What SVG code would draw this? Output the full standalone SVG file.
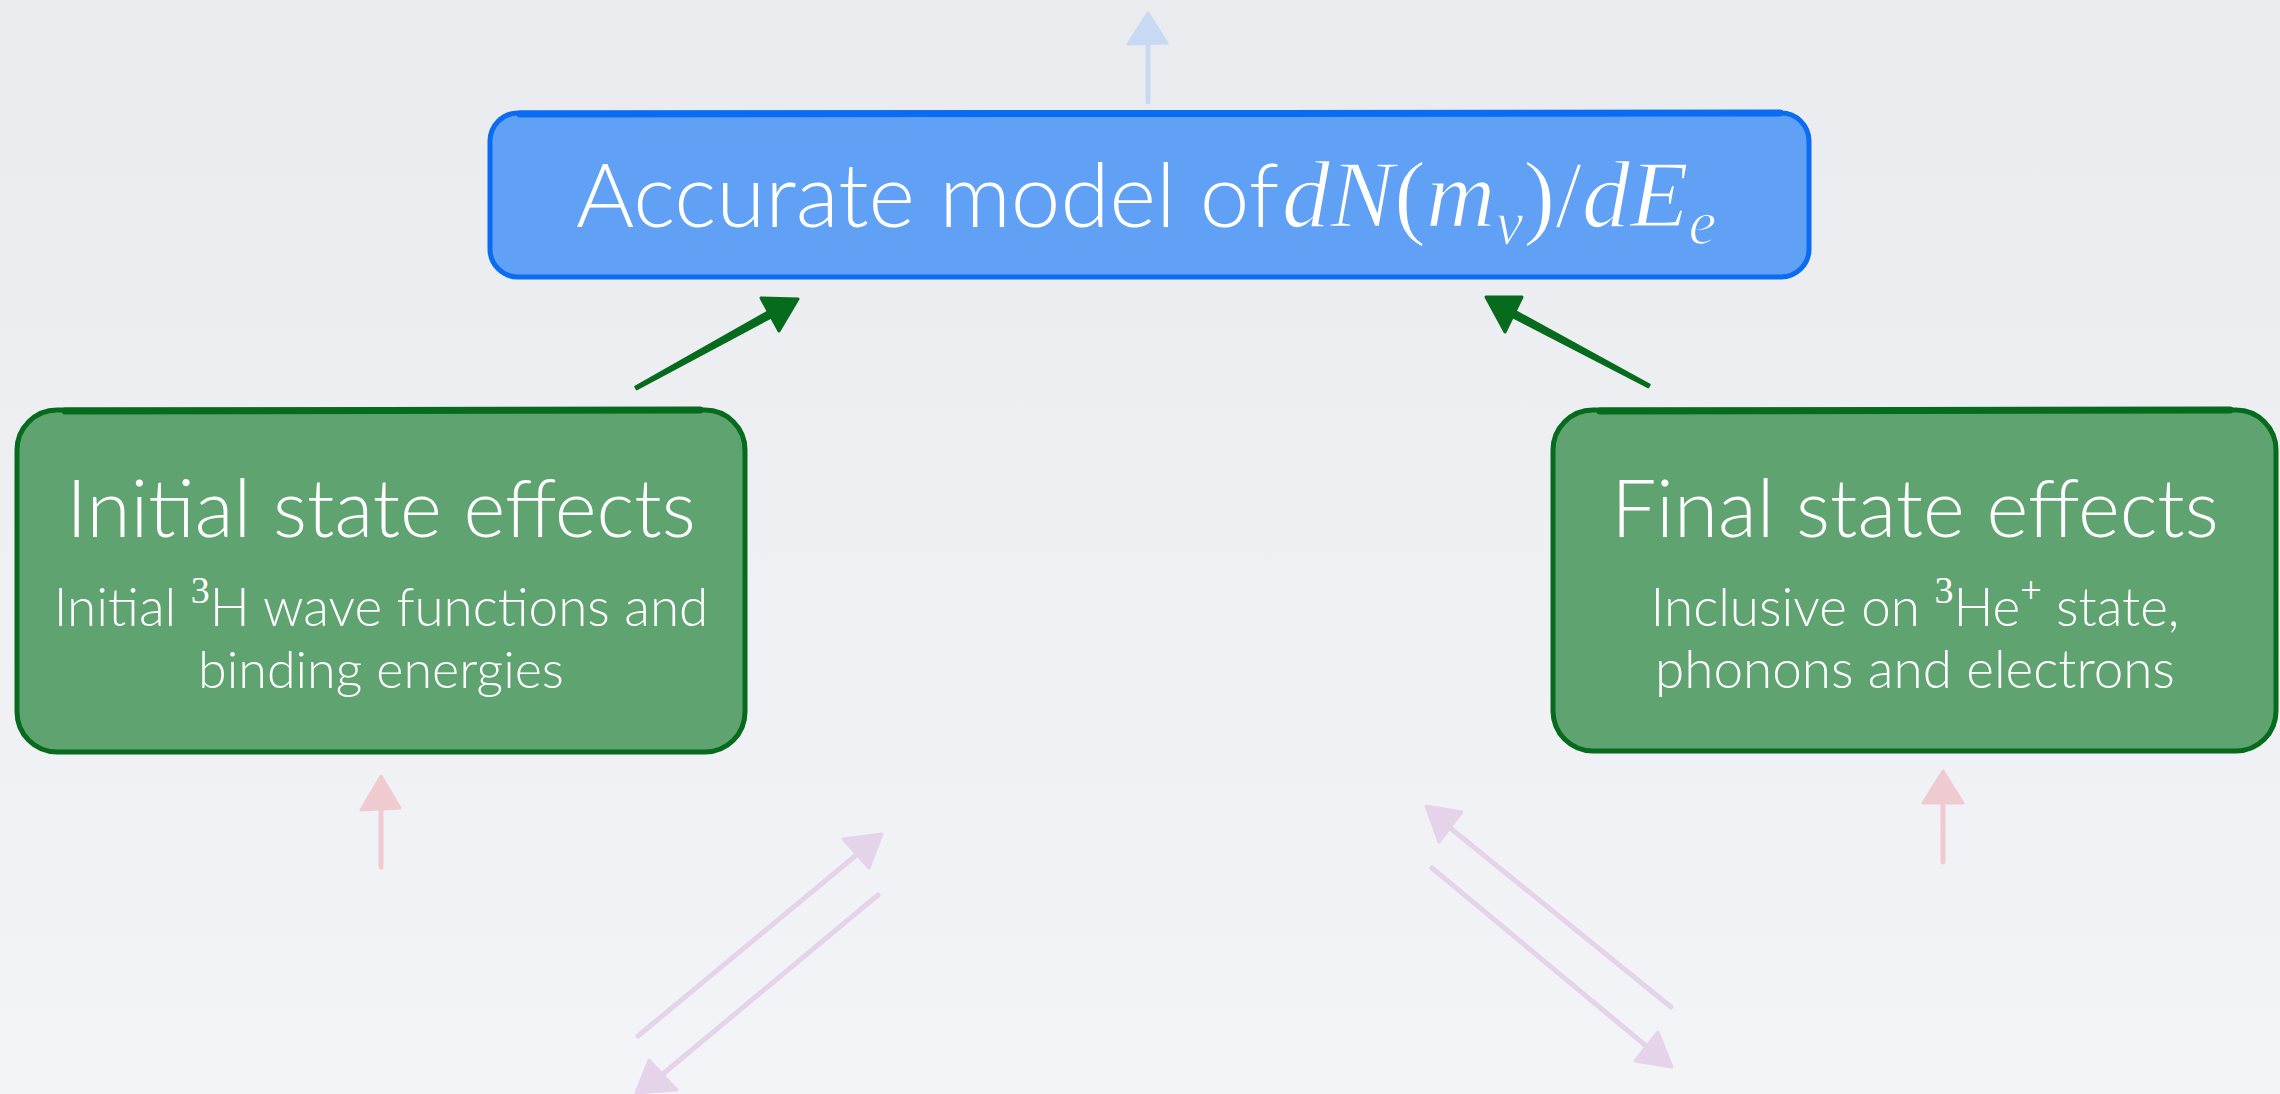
<svg xmlns="http://www.w3.org/2000/svg" width="2280" height="1094" viewBox="0 0 2280 1094">
  <defs>
    <linearGradient id="bg" x1="0" y1="0" x2="0" y2="1">
      <stop offset="0" stop-color="#e9ebef"/>
      <stop offset="1" stop-color="#f3f4f7"/>
    </linearGradient>
    <style>
      .box-blue { fill: #60a1f6; stroke: #0a6cf2; stroke-width: 5; }
      .box-green { fill: #5fa470; stroke: #076b1d; stroke-width: 5; }
      .edge-top-blue { fill: none; stroke: #0a6cf2; stroke-width: 7; stroke-linecap: round; }
      .edge-top-green { fill: none; stroke: #076b1d; stroke-width: 7; stroke-linecap: round; }
      .title { font-family: "Lato", "Open Sans", "DejaVu Sans", sans-serif; font-weight: 300; fill: #ffffff; }
      .math { font-family: "Liberation Serif", "DejaVu Serif", serif; font-style: italic; font-weight: 400; fill: #ffffff; stroke: #60a1f6; stroke-width: 1.4; }
      .upright { font-style: normal; }
      .sup { font-family: "Liberation Serif", "DejaVu Serif", serif; }
      .shaft-green { fill: #076b1d; stroke: #076b1d; stroke-width: 2; stroke-linejoin: round; }
      .head-green { fill: #076b1d; stroke: #076b1d; stroke-width: 3; stroke-linejoin: round; }
      .shaft-faint-blue { fill: none; stroke: #c8daf3; stroke-width: 5; stroke-linecap: round; }
      .head-faint-blue { fill: #c8daf3; stroke: #c8daf3; stroke-width: 3; stroke-linejoin: round; }
      .shaft-pink { fill: none; stroke: #efcad1; stroke-width: 5; stroke-linecap: round; }
      .head-pink { fill: #efcad1; stroke: #efcad1; stroke-width: 3; stroke-linejoin: round; }
      .shaft-purple { fill: none; stroke: #e4d3e9; stroke-width: 5; stroke-linecap: round; }
      .head-purple { fill: #e4d3e9; stroke: #e4d3e9; stroke-width: 3; stroke-linejoin: round; }
    </style>
  </defs>

  <rect x="0" y="0" width="2280" height="1094" fill="url(#bg)"/>

  <!-- Connectors -->
  <g id="connectors">
    <!-- faint arrow leaving the top box upwards -->
    <g id="arrow-top-out">
      <path class="shaft-faint-blue" d="M1148,102 L1148,40"/>
      <polygon class="head-faint-blue" points="1148,13 1128,44 1167,43"/>
    </g>
    <!-- initial state effects -> accurate model (tapered shaft) -->
    <g id="arrow-initial-to-model">
      <path class="shaft-green" d="M636.7,389.3 L777.7,314.1 L774.3,307.9 L635.3,386.7 Z"/>
      <polygon class="head-green" points="798,299 761,298 779,331"/>
    </g>
    <!-- final state effects -> accurate model (tapered shaft) -->
    <g id="arrow-final-to-model">
      <path class="shaft-green" d="M1649.7,384.7 L1511.6,308.9 L1508.4,315.1 L1648.3,387.3 Z"/>
      <polygon class="head-green" points="1486,297 1522,297 1505,332"/>
    </g>
    <!-- faint arrows into the lower boxes -->
    <g id="arrow-into-initial">
      <path class="shaft-pink" d="M381,867 L381,806"/>
      <polygon class="head-pink" points="381,776 361,810 400,808"/>
    </g>
    <g id="arrow-into-final">
      <path class="shaft-pink" d="M1943,862 L1943,802"/>
      <polygon class="head-pink" points="1943,771 1923,803 1963,803"/>
    </g>
    <!-- faint paired arrows, lower left -->
    <g id="arrows-lower-left">
      <path class="shaft-purple" d="M638,1036 L860,852"/>
      <polygon class="head-purple" points="882,834 843,839 869,868"/>
      <path class="shaft-purple" d="M878,895 L658,1078"/>
      <polygon class="head-purple" points="636,1093 649,1060 677,1090"/>
    </g>
    <!-- faint paired arrows, lower right -->
    <g id="arrows-lower-right">
      <path class="shaft-purple" d="M1671,1007 L1449,827"/>
      <polygon class="head-purple" points="1426,806 1462,812 1439,842"/>
      <path class="shaft-purple" d="M1432,868 L1651,1050"/>
      <polygon class="head-purple" points="1672,1067 1658,1032 1635,1061"/>
    </g>
  </g>

  <!-- Top node -->
  <g id="node-model">
    <rect class="box-blue" x="490" y="113" width="1319" height="164" rx="28" ry="28"/>
    <path class="edge-top-blue" d="M520,114 L1780,113"/>
    <text class="title" x="576" y="227" font-size="89">Accurate model of</text>
    <text class="math" x="1282" y="227" font-size="96">dN<tspan class="upright">(</tspan>m<tspan font-size="63" dy="17">ν</tspan><tspan class="upright" dy="-17">)/</tspan>dE<tspan font-size="63" dy="17">e</tspan></text>
  </g>

  <!-- Left node -->
  <g id="node-initial">
    <rect class="box-green" x="17" y="410" width="728" height="342" rx="40" ry="40"/>
    <path class="edge-top-green" d="M65,411 L700,410"/>
    <text class="title" x="381" y="537" font-size="80" text-anchor="middle">Initial state effects</text>
    <text class="title" x="381" y="626" font-size="53" text-anchor="middle">Initial <tspan class="sup" font-size="38" dy="-23">3</tspan><tspan dy="23">H wave functions and</tspan></text>
    <text class="title" x="381" y="688" font-size="52" text-anchor="middle">binding energies</text>
  </g>

  <!-- Right node -->
  <g id="node-final">
    <rect class="box-green" x="1553" y="410" width="723" height="341" rx="40" ry="40"/>
    <path class="edge-top-green" d="M1600,411 L2230,410"/>
    <text class="title" x="1915" y="537" font-size="80" text-anchor="middle">Final state effects</text>
    <text class="title" x="1915" y="626" font-size="53" text-anchor="middle">Inclusive on <tspan class="sup" font-size="38" dy="-23">3</tspan><tspan dy="23">He</tspan><tspan class="sup" font-size="38" dy="-23">+</tspan><tspan dy="23"> state,</tspan></text>
    <text class="title" x="1915" y="688" font-size="53" text-anchor="middle">phonons and electrons</text>
  </g>
</svg>
